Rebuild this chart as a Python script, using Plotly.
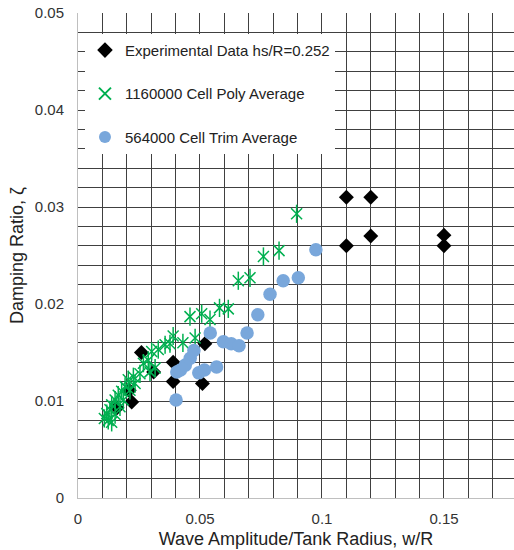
import plotly.graph_objects as go

# Experimental damping measurements
exp_x = [0.026, 0.031, 0.039, 0.039, 0.052, 0.051, 0.021, 0.022, 0.016,
         0.110, 0.120, 0.120, 0.110, 0.150, 0.150]
exp_y = [0.0150, 0.0130, 0.0140, 0.0120, 0.0159, 0.0118, 0.0111, 0.0099, 0.0093,
         0.0310, 0.0310, 0.0270, 0.0260, 0.0271, 0.0260]

# 1160000-cell polyhedral mesh results
poly_x = [0.0896, 0.0824, 0.0760, 0.0705, 0.0657, 0.0616, 0.0580, 0.0541, 0.0507,
          0.0459, 0.0480, 0.0430, 0.0390, 0.0357, 0.0377, 0.0329, 0.0302, 0.0316,
          0.0288, 0.0268, 0.0295, 0.0254, 0.0227, 0.0206, 0.0234, 0.0193, 0.0213,
          0.0179, 0.0165, 0.0186, 0.0152, 0.0138, 0.0172, 0.0131, 0.0118, 0.0152,
          0.0124, 0.0108, 0.0138]
poly_y = [0.0293, 0.0255, 0.0249, 0.0227, 0.0224, 0.0195, 0.0196, 0.0184, 0.0190,
          0.0187, 0.0165, 0.0160, 0.0167, 0.0158, 0.0159, 0.0153, 0.0151, 0.0134,
          0.0142, 0.0139, 0.0130, 0.0128, 0.0125, 0.0122, 0.0118, 0.0115, 0.0111,
          0.0110, 0.0106, 0.0101, 0.0101, 0.0096, 0.0094, 0.0091, 0.0087, 0.0086,
          0.0080, 0.0082, 0.0078]

# 564000-cell trimmed mesh results
trim_x = [0.0402, 0.0405, 0.0420, 0.0440, 0.0460, 0.0475, 0.0495, 0.0518, 0.0542,
          0.0568, 0.0596, 0.0628, 0.0660, 0.0693, 0.0737, 0.0787, 0.0841, 0.0903,
          0.0975]
trim_y = [0.0101, 0.0130, 0.0132, 0.0137, 0.0144, 0.0152, 0.0129, 0.0132, 0.0170,
          0.0135, 0.0161, 0.0159, 0.0157, 0.0170, 0.0189, 0.0210, 0.0224, 0.0227,
          0.0256]

# Axis ticks
x_tickvals = [i * 0.01 for i in range(18)]
x_ticktext = ["0", "", "", "", "", "0.05", "", "", "", "", "0.1", "", "", "", "",
              "0.15", "", ""]
y_tickvals = [i * 0.002 for i in range(26)]
y_ticktext = [("0" if i == 0 else f"{i * 0.002:.2f}") if i % 5 == 0 else ""
              for i in range(26)]

FONT = "Liberation Sans, Arial, sans-serif"
GREEN = "#00B050"
BLUE = "#79A7DB"

fig = go.Figure()
fig.add_trace(go.Scatter(
    x=exp_x, y=exp_y, mode="markers", name="Experimental Data hs/R=0.252",
    legendgroup="a",
    marker=dict(symbol="diamond", size=11.5, color="black"),
))
fig.add_trace(go.Scatter(
    x=poly_x, y=poly_y, mode="markers", name="1160000 Cell Poly Average",
    legendgroup="b",
    marker=dict(symbol="x-thin-open", size=11, color=GREEN,
                line=dict(color=GREEN, width=1.5)),
))
fig.add_trace(go.Scatter(
    x=poly_x, y=poly_y, mode="markers", showlegend=False, legendgroup="b",
    hoverinfo="skip",
    marker=dict(symbol="line-ns-open", size=13, color=GREEN,
                line=dict(color=GREEN, width=1.5)),
))
fig.add_trace(go.Scatter(
    x=trim_x, y=trim_y, mode="markers", name="564000 Cell Trim Average",
    legendgroup="c",
    marker=dict(symbol="circle", size=13.5, color=BLUE),
))

fig.update_layout(
    width=514, height=550,
    margin=dict(l=78, r=0, t=13, b=52),
    paper_bgcolor="white", plot_bgcolor="white",
    font=dict(family=FONT, size=15, color="#333333"),
    showlegend=True,
    legend=dict(
        x=0.016, y=0.957, xanchor="left", yanchor="top",
        bgcolor="white", borderwidth=0,
        font=dict(family=FONT, size=15, color="#222222"),
        tracegroupgap=21, itemsizing="constant",
    ),
    xaxis=dict(
        range=[0, 0.1787], tickmode="array",
        tickvals=x_tickvals, ticktext=x_ticktext,
        showgrid=True, gridcolor="#404040", gridwidth=1,
        zeroline=False, showline=True, linecolor="#BFBFBF", linewidth=1,
        ticks="", ticklabelstandoff=7,
        title=dict(text="Wave Amplitude/Tank Radius, w/R",
                   font=dict(family=FONT, size=18, color="#222222"), standoff=6),
    ),
    yaxis=dict(
        range=[0, 0.05], tickmode="array",
        tickvals=y_tickvals, ticktext=y_ticktext,
        showgrid=True, gridcolor="#404040", gridwidth=1,
        zeroline=False, showline=True, linecolor="#BFBFBF", linewidth=1,
        ticks="", ticklabelstandoff=10,
        title=dict(text="Damping Ratio, ζ",
                   font=dict(family=FONT, size=18, color="#222222"), standoff=6),
    ),
)

fig.write_html("out.html")
